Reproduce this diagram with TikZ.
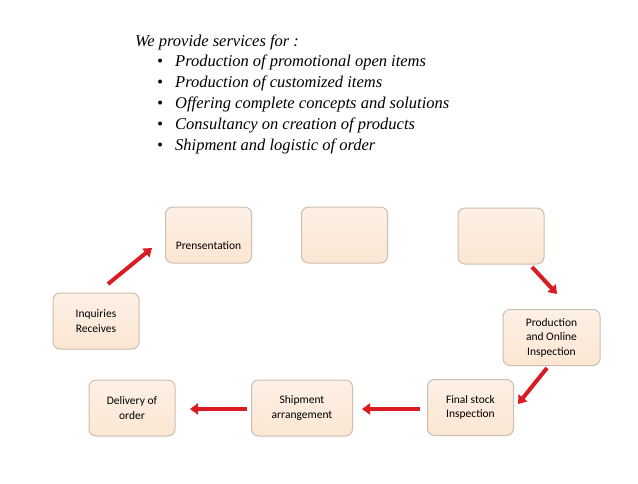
\documentclass[tikz,border=0pt]{standalone}
\usepackage{fontspec}
\setmainfont{Liberation Serif}
\newfontfamily\boxfont{Carlito}
\usetikzlibrary{arrows.meta}
\definecolor{boxfillA}{RGB}{253,240,230}
\definecolor{boxfillB}{RGB}{251,230,210}
\definecolor{boxline}{RGB}{205,190,175}
\definecolor{arrred}{RGB}{218,28,34}
\tikzset{
  procbox/.style={draw=boxline, line width=1pt, top color=boxfillA, bottom color=boxfillB,
    rounded corners=7pt, minimum width=#1, minimum height=56pt, align=center,
    font=\boxfont\fontsize{11.5pt}{14.5pt}\selectfont, inner sep=2pt},
  procbox/.default=86pt,
  flowarrow/.style={draw=arrred, line width=4pt, -{Triangle[width=11pt,length=8pt]}},
  listtext/.style={anchor=base west, inner sep=0pt, font=\itshape\fontsize{16.5pt}{18pt}\selectfont}
}
\begin{document}
\begin{tikzpicture}[x=1pt,y=-1pt]
\useasboundingbox (0,0) rectangle (638,483);
\fill[white] (0,0) rectangle (638,483);
% header text
\node[listtext] (head) at (135,46) {We provide services for :};
\foreach \t [count=\i] in {Production of promotional open items,Production of customized items,Offering complete concepts and solutions,Consultancy on creation of products,Shipment and logistic of order}{
  \node[listtext] (b\i) at (157,46+20.8*\i) {\textbullet};
  \node[listtext] (l\i) at (175,46+20.8*\i) {\t};
}
% boxes
\node[procbox] (inq) at (96,321) {Inquiries\\Receives};
\node[procbox] (pres) at (208.5,235) {\mbox{}\\\mbox{}\\Prensentation};
\node[procbox] (b3) at (344.5,235) {};
\node[procbox] (b4) at (501,236) {};
\node[procbox=97pt] (prod) at (551.5,337.5) {Production\\and Online\\Inspection};
\node[procbox] (fin) at (470.5,407.5) {Final stock\\Inspection};
\node[procbox=101pt] (ship) at (302,408) {Shipment\\arrangement};
\node[procbox] (del) at (132,408) {Delivery of\\order};
% arrow ends
\coordinate (a1s) at (108,284);
\coordinate (a1e) at (152,248);
\coordinate (a2s) at (532,267);
\coordinate (a2e) at (557,294);
\coordinate (a3s) at (547,368);
\coordinate (a3e) at (518,404);
\coordinate (a4s) at (420,409);
\coordinate (a4e) at (362,409);
\coordinate (a5s) at (247,409);
\coordinate (a5e) at (190,409);
\draw[flowarrow] (a1s) -- (a1e);
\draw[flowarrow] (a2s) -- (a2e);
\draw[flowarrow] (a3s) -- (a3e);
\draw[flowarrow] (a4s) -- (a4e);
\draw[flowarrow] (a5s) -- (a5e);
\end{tikzpicture}
\end{document}
